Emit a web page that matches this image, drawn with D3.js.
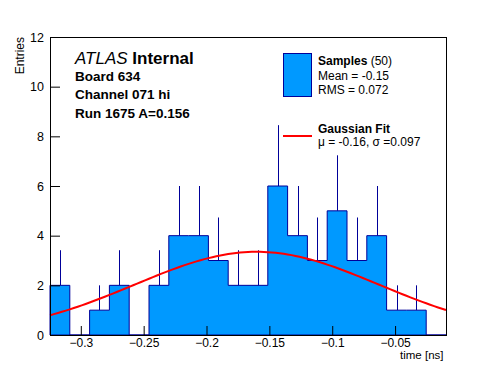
<!DOCTYPE html>
<html lang="en">
<head>
  <meta charset="UTF-8">
  <title>Board 634 timing</title>
  <script src="https://d3js.org/d3.v7.min.js"></script>
  <style>
    body { margin: 0; background: #fff; }
    svg { display: block; font-family: 'Liberation Sans', Arial, Helvetica, sans-serif; }
    .tick text { font-size: 12.5px; fill: #000; }
    .xaxis .tick text { font-size: 12px; }
    .tick line { stroke: #000; }
  </style>
</head>
<body>
  <svg id="chart" width="496" height="372"></svg>

  <script>
    // histogram: 20 bins between histLow and histHigh
    const histLow = -0.3245;
    const histHigh = -0.0095;
    const binCounts = [2, 0, 1, 2, 0, 2, 4, 4, 3, 2, 2, 6, 4, 3, 5, 3, 4, 1, 1, 0];

    // gaussian fit parameters
    const fitAmp = 3.35;
    const fitMean = -0.16;
    const fitSigma = 0.097;

    const xMajor = [-0.3, -0.25, -0.2, -0.15, -0.1, -0.05];
    const yMajor = [0, 2, 4, 6, 8, 10, 12];

    const infoLines = ["Board 634", "Channel 071 hi", "Run 1675 A=0.156"];

    const frame = { left: 50, right: 446, top: 37, bottom: 335 };
    const fillColor = "#0099ff";
    const lineColor = "#000099";

    const svg = d3.select("#chart");

    const x = d3.scaleLinear().domain([histLow, histHigh]).range([frame.left, frame.right]);
    const y = d3.scaleLinear().domain([0, 12]).range([frame.bottom, frame.top]);

    const binW = (histHigh - histLow) / binCounts.length;
    const bins = binCounts.map((c, i) => ({ lo: histLow + i * binW, hi: histLow + (i + 1) * binW, n: c }));

    // error bars (upper half only, the fill hides the rest)
    svg.append("g")
      .selectAll("line")
      .data(bins.filter(b => b.n > 0))
      .join("line")
      .attr("x1", b => Math.round(x((b.lo + b.hi) / 2)) + 0.5)
      .attr("x2", b => Math.round(x((b.lo + b.hi) / 2)) + 0.5)
      .attr("y1", b => y(b.n))
      .attr("y2", b => y(b.n + Math.sqrt(b.n)))
      .attr("stroke", lineColor)
      .attr("stroke-width", 1);

    // stepped histogram
    let d = `M${x(histLow)},${y(0)}`;
    bins.forEach(b => { d += `L${x(b.lo)},${y(b.n)}L${x(b.hi)},${y(b.n)}`; });
    d += `L${x(histHigh)},${y(0)}Z`;
    svg.append("path")
      .attr("d", d)
      .attr("fill", fillColor)
      .attr("stroke", lineColor)
      .attr("stroke-width", 1);

    // fit curve
    const fitPts = d3.range(0, 101).map(i => {
      const t = histLow + (histHigh - histLow) * i / 100;
      return [t, fitAmp * Math.exp(-0.5 * ((t - fitMean) / fitSigma) ** 2)];
    });
    svg.append("path")
      .datum(fitPts)
      .attr("d", d3.line().x(p => x(p[0])).y(p => y(p[1])))
      .attr("fill", "none")
      .attr("stroke", "#ff0000")
      .attr("stroke-width", 2);

    // axes
    const minus = v => (v < 0 ? "\u2212" : "") + Math.abs(v);

    const yAx = svg.append("g").attr("transform", `translate(${frame.left},0)`);
    yAx.call(d3.axisLeft(y).tickValues(d3.range(0, 12.01, 0.5)).tickSize(-5).tickFormat(""));
    yAx.call(d3.axisLeft(y).tickValues(yMajor).tickSize(-10).tickPadding(6));

    const xAx = svg.append("g").attr("class", "xaxis").attr("transform", `translate(0,${frame.bottom})`);
    xAx.call(d3.axisBottom(x).tickValues(d3.range(-32, -0.5, 1).map(v => v / 100)).tickSize(-4.5).tickFormat(""));
    xAx.call(d3.axisBottom(x).tickValues(xMajor).tickSize(-9).tickPadding(3.5).tickFormat(minus));

    svg.selectAll(".domain").remove();

    svg.append("rect")
      .attr("x", frame.left + 0.5).attr("y", frame.top + 0.5)
      .attr("width", frame.right - frame.left).attr("height", frame.bottom - frame.top)
      .attr("fill", "none").attr("stroke", "#000");

    svg.append("text")
      .attr("transform", `translate(24,${frame.top}) rotate(-90)`)
      .attr("text-anchor", "end")
      .attr("font-size", 12)
      .text("Entries");

    svg.append("text")
      .attr("x", 443.5).attr("y", 358.5)
      .attr("text-anchor", "end")
      .attr("font-size", 11.5)
      .text("time [ns]");

    // ATLAS label
    const atl = svg.append("text").attr("x", 75).attr("y", 64).attr("font-size", 17);
    atl.append("tspan").attr("font-style", "italic").text("ATLAS");
    atl.append("tspan").attr("font-weight", "bold").text(" Internal");

    svg.append("g")
      .selectAll("text")
      .data(infoLines)
      .join("text")
      .attr("x", 75)
      .attr("y", (t, i) => 81 + i * 18.3)
      .attr("font-size", 13.5)
      .attr("font-weight", "bold")
      .text(t => t);

    // legend
    svg.append("rect")
      .attr("x", 283.5).attr("y", 53.5).attr("width", 28).attr("height", 43)
      .attr("fill", fillColor).attr("stroke", lineColor);
    const s = svg.append("text").attr("x", 318).attr("y", 65).attr("font-size", 12);
    s.append("tspan").attr("font-weight", "bold").text("Samples");
    s.append("tspan").text(" (50)");
    svg.append("text").attr("x", 318).attr("y", 79.5).attr("font-size", 12).text("Mean = -0.15");
    svg.append("text").attr("x", 318).attr("y", 93.5).attr("font-size", 12).text("RMS = 0.072");

    svg.append("line")
      .attr("x1", 283).attr("x2", 312).attr("y1", 136).attr("y2", 136)
      .attr("stroke", "#ff0000").attr("stroke-width", 2);
    svg.append("text").attr("x", 318).attr("y", 133).attr("font-size", 12)
      .attr("font-weight", "bold").text("Gaussian Fit");
    svg.append("text").attr("x", 318).attr("y", 145.5).attr("font-size", 12)
      .text("\u03bc = -0.16, \u03c3 =0.097");
  </script>
</body>
</html>
